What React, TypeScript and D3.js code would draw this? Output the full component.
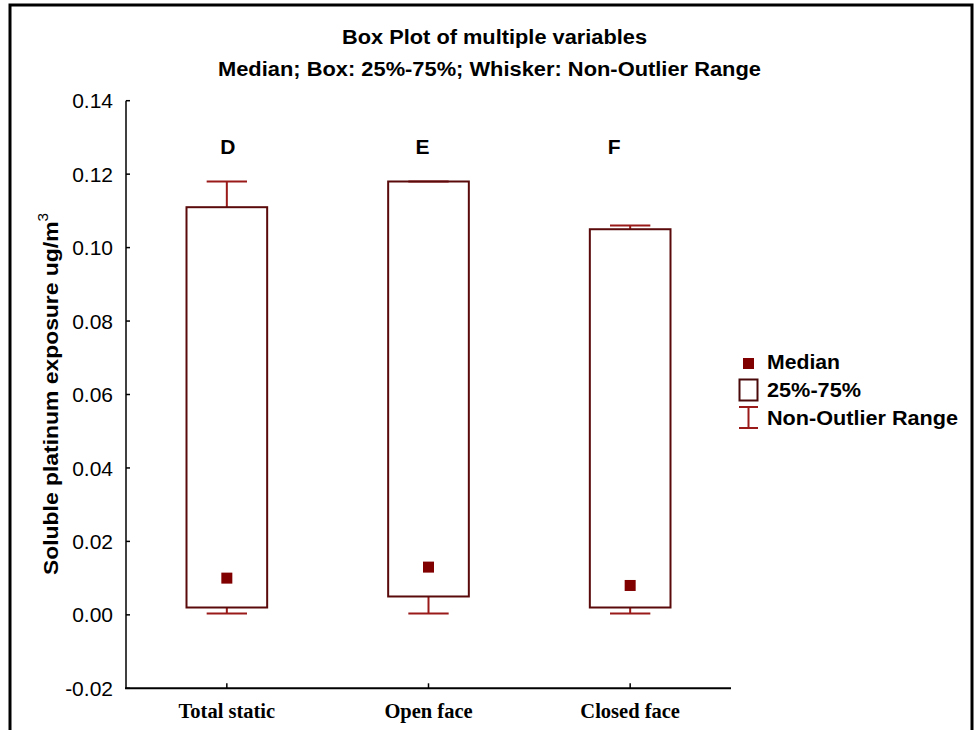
import { scaleBand, scaleLinear } from 'd3';

const W = 976;
const H = 730;

// chart values
const categories = ['Total static', 'Open face', 'Closed face'];
const letters = ['D', 'E', 'F'];
const medians = [0.010, 0.013, 0.008];
const q1 = [0.002, 0.005, 0.002];
const q3 = [0.111, 0.118, 0.105];
const whiskerLow = [0.0004, 0.0004, 0.0004];
const whiskerHigh = [0.118, 0.118, 0.106];
const yTicks = [-0.02, 0, 0.02, 0.04, 0.06, 0.08, 0.1, 0.12, 0.14];

const BOX_STROKE = '#5a0a0a';
const WHISKER = '#9a1a1a';
const MEDIAN_FILL = '#800000';
const SANS = '"Liberation Sans", Arial, sans-serif';
const SERIF = '"Liberation Serif", "Times New Roman", serif';

const App = () => {
  const x = scaleBand<string>().domain(categories).range([126, 731]).padding(0);
  const y = scaleLinear().domain([-0.02, 0.14]).range([688.3, 100.7]);

  const boxW = x.bandwidth() * 0.4;
  const capW = boxW / 2;
  // small horizontal nudges of the D/E/F letters as placed in the original
  const letterNudge = [1, -6, -16];

  // the original's type is a bit wider than Liberation Sans, so stretch to fit
  const stretch = { lengthAdjust: 'spacingAndGlyphs' as const };

  return (
    <svg width={W} height={H} style={{ position: 'absolute', left: 0, top: 0, display: 'block', background: '#fff' }}>
      {/* frame */}
      <rect x={10} y={5} width={962} height={760} fill="none" stroke="#000" strokeWidth={3} />

      {/* titles */}
      <text x={342} y={44} fontFamily={SANS} fontWeight="bold" fontSize={20} textLength={305} {...stretch}>
        Box Plot of multiple variables
      </text>
      <text x={218} y={76} fontFamily={SANS} fontWeight="bold" fontSize={20} textLength={543} {...stretch}>
        Median; Box: 25%-75%; Whisker: Non-Outlier Range
      </text>

      {/* y axis */}
      <line x1={126} x2={126} y1={y(0.14)} y2={y(-0.02)} stroke="#000" strokeWidth={1.5} />
      {yTicks.map((t) => (
        <g key={t}>
          <line x1={126} x2={130} y1={y(t)} y2={y(t)} stroke="#000" strokeWidth={1.5} />
          <text x={113} y={y(t)} dy="0.36em" textAnchor="end" fontFamily={SANS} fontSize={21}>
            {t.toFixed(2)}
          </text>
        </g>
      ))}

      {/* x axis */}
      <line x1={125} x2={731} y1={y(-0.02)} y2={y(-0.02)} stroke="#000" strokeWidth={2} />
      {categories.map((c) => {
        const cx = x(c)! + x.bandwidth() / 2;
        return (
          <g key={c}>
            <line x1={cx} x2={cx} y1={y(-0.02)} y2={y(-0.02) - 5} stroke="#000" strokeWidth={1.5} />
            <text x={cx} y={718} textAnchor="middle" fontFamily={SERIF} fontWeight="bold" fontSize={20.5}>
              {c}
            </text>
          </g>
        );
      })}

      {/* y label */}
      <text
        transform={`translate(58, 575) rotate(-90)`}
        fontFamily={SANS}
        fontWeight="bold"
        fontSize={21}
        textLength={362}
        {...stretch}
      >
        Soluble platinum exposure ug/m
        <tspan fontSize={14} fontWeight="normal" dy={-10}>3</tspan>
      </text>

      {/* boxes */}
      {categories.map((c, i) => {
        const cx = x(c)! + x.bandwidth() / 2;
        return (
          <g key={c}>
            {/* whiskers */}
            <line x1={cx} x2={cx} y1={y(q3[i])} y2={y(whiskerHigh[i])} stroke={WHISKER} strokeWidth={2} />
            <line x1={cx - capW / 2} x2={cx + capW / 2} y1={y(whiskerHigh[i])} y2={y(whiskerHigh[i])} stroke={WHISKER} strokeWidth={2} />
            <line x1={cx} x2={cx} y1={y(q1[i])} y2={y(whiskerLow[i])} stroke={WHISKER} strokeWidth={2} />
            <line x1={cx - capW / 2} x2={cx + capW / 2} y1={y(whiskerLow[i])} y2={y(whiskerLow[i])} stroke={WHISKER} strokeWidth={2} />
            {/* box */}
            <rect
              x={cx - boxW / 2}
              y={y(q3[i])}
              width={boxW}
              height={y(q1[i]) - y(q3[i])}
              fill="none"
              stroke={BOX_STROKE}
              strokeWidth={2}
            />
            {/* median */}
            <rect x={cx - 5.5} y={y(medians[i]) - 5.5} width={11} height={11} fill={MEDIAN_FILL} />
            {/* group letter */}
            <text x={cx + letterNudge[i]} y={154} textAnchor="middle" fontFamily={SANS} fontWeight="bold" fontSize={21}>
              {letters[i]}
            </text>
          </g>
        );
      })}

      {/* legend */}
      <rect x={743} y={358} width={11} height={11} fill={MEDIAN_FILL} />
      <text x={767} y={369} fontFamily={SANS} fontWeight="bold" fontSize={20} textLength={73} {...stretch}>Median</text>
      <rect x={739.5} y={379.5} width={18} height={21} fill="none" stroke="#4a0a0a" strokeWidth={2} />
      <text x={767} y={397} fontFamily={SANS} fontWeight="bold" fontSize={20} textLength={94} {...stretch}>25%-75%</text>
      <line x1={748.5} x2={748.5} y1={407} y2={428} stroke={WHISKER} strokeWidth={2} />
      <line x1={739} x2={758} y1={407} y2={407} stroke={WHISKER} strokeWidth={2} />
      <line x1={739} x2={758} y1={428} y2={428} stroke={WHISKER} strokeWidth={2} />
      <text x={767} y={425} fontFamily={SANS} fontWeight="bold" fontSize={20} textLength={191} {...stretch}>Non-Outlier Range</text>
    </svg>
  );
};

export default App;
